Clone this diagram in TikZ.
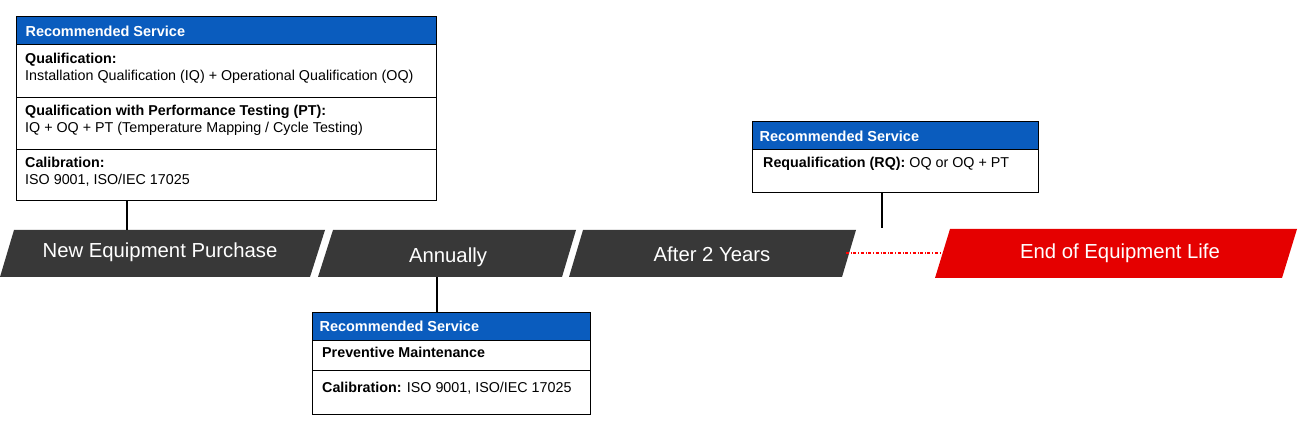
\documentclass[tikz,border=0pt]{standalone}
\usepackage{fontspec}
\setmainfont{Liberation Sans}
\begin{document}
\begin{tikzpicture}[x=1pt,y=-1pt,
  hdrtxt/.style={anchor=west,text=white,font=\fontsize{14.5}{16}\selectfont\bfseries},
  celltxt/.style={anchor=north west,align=left,inner sep=0pt,font=\fontsize{14.3}{17}\selectfont},
  bandtxt/.style={text=white,font=\fontsize{20.3}{22}\selectfont},
  conn/.style={line width=1.5pt}]
\definecolor{hb}{RGB}{10,92,190}
\useasboundingbox (0,0) rectangle (1298,430);
% bands
\fill[black!78] (14,230)--(325,230)--(310,277)--(0,277)--cycle;
\fill[black!78] (333,230)--(576,230)--(562,277)--(318,277)--cycle;
\fill[black!78] (583,230)--(856,230)--(842,277)--(569,277)--cycle;
\fill[red!90!black] (950,229)--(1297,229)--(1282,278)--(935,278)--cycle;
\node[bandtxt] (b1) at (160,252) {New Equipment Purchase};
\node[bandtxt] (b2) at (448,257) {Annually};
\node[bandtxt] (b3) at (712,254) {After 2 Years};
\node[bandtxt] (b4) at (1120,253) {End of Equipment Life};
\coordinate (d1) at (846,253); \coordinate (d2) at (940,253);
\draw[red,dash dot,line width=1.2pt] (d1)--(d2);
% box 1
\fill[white] (16,45) rectangle (436,201);
\fill[hb] (16,17) rectangle (436,45);
\draw[line width=1pt] (16,17) rectangle (436,201) (16,45)--(436,45) (16,98)--(436,98) (16,150)--(436,150);
\node[hdrtxt] (h1) at (22,31) {Recommended Service};
\node[celltxt] at (25,53) {\textbf{Qualification:}\\Installation Qualification (IQ) + Operational Qualification (OQ)};
\node[celltxt] at (25,105) {\textbf{Qualification with Performance Testing (PT):}\\IQ + OQ + PT (Temperature Mapping / Cycle Testing)};
\node[celltxt] at (25,157) {\textbf{Calibration:}\\ISO 9001, ISO/IEC 17025};
\coordinate (c1a) at (127,201); \coordinate (c1b) at (127,230);
\draw[conn] (c1a)--(c1b);
% box 2
\fill[white] (312,340) rectangle (590,414);
\fill[hb] (312,312) rectangle (590,340);
\draw[line width=1pt] (312,312) rectangle (590,414) (312,340)--(590,340) (312,370)--(590,370);
\node[hdrtxt] (h2) at (316,326) {Recommended Service};
\node[celltxt] at (322,347) {\textbf{Preventive Maintenance}};
\node[celltxt] at (322,382) {\textbf{Calibration:} ISO 9001, ISO/IEC 17025};
\coordinate (c2a) at (437,277); \coordinate (c2b) at (437,312);
\draw[conn] (c2a)--(c2b);
% box 3
\fill[white] (752,150) rectangle (1038,193);
\fill[hb] (752,122) rectangle (1038,150);
\draw[line width=1pt] (752,122) rectangle (1038,193) (752,150)--(1038,150);
\node[hdrtxt] (h3) at (756,136) {Recommended Service};
\node[celltxt] at (763,157) {\textbf{Requalification (RQ):} OQ or OQ + PT};
\coordinate (c3a) at (882,193); \coordinate (c3b) at (882,228);
\draw[conn] (c3a)--(c3b);
\end{tikzpicture}
\end{document}
